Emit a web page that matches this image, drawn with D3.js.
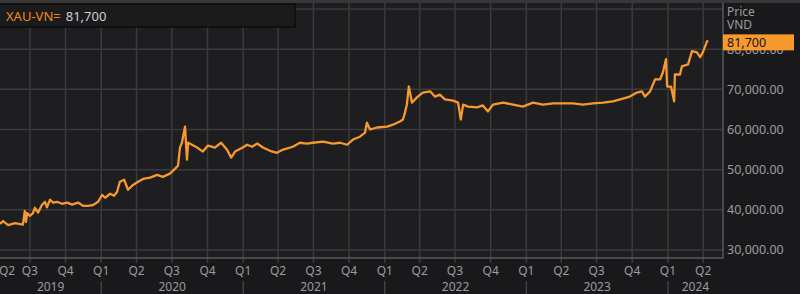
<!DOCTYPE html>
<html>
<head>
<meta charset="utf-8">
<script src="https://cdn.jsdelivr.net/npm/d3@7"></script>
<style>
  body { margin: 0; background: #19191b; }
  svg { display: block; font-family: "Noto Sans", "Open Sans", sans-serif; }
</style>
</head>
<body>
<div id="chart"></div>
<script>
// XAU-VN= gold price, VND
var dates = [
  "2019-04-15","2019-04-23","2019-05-06","2019-05-24","2019-06-13","2019-06-18","2019-06-21","2019-06-24",
  "2019-07-01","2019-07-09","2019-07-14","2019-07-22","2019-08-01","2019-08-09","2019-08-14","2019-08-22",
  "2019-08-30","2019-09-09","2019-09-22","2019-10-05","2019-10-18","2019-11-02","2019-11-15","2019-11-28",
  "2019-12-11","2019-12-24","2020-01-03","2020-01-11","2020-01-24","2020-02-03","2020-02-11","2020-02-18",
  "2020-02-29","2020-03-10","2020-03-23","2020-04-05","2020-04-18","2020-05-06","2020-05-24","2020-06-08",
  "2020-06-26","2020-07-09","2020-07-17","2020-07-22","2020-07-27","2020-08-04","2020-08-09","2020-08-12",
  "2020-08-22","2020-09-04","2020-09-19","2020-10-02","2020-10-20","2020-11-05","2020-11-20","2020-12-01",
  "2020-12-11","2020-12-31","2021-01-11","2021-01-24","2021-02-06","2021-02-21","2021-03-11","2021-03-29",
  "2021-04-14","2021-05-09","2021-05-27","2021-06-14","2021-06-30","2021-07-26","2021-08-20","2021-09-08",
  "2021-09-26","2021-10-11","2021-10-29","2021-11-11","2021-11-16","2021-11-24","2021-12-12","2022-01-07",
  "2022-01-22","2022-02-09","2022-02-17","2022-02-22","2022-02-27","2022-03-04","2022-03-12","2022-03-25",
  "2022-04-09","2022-04-28","2022-05-10","2022-05-23","2022-06-05","2022-06-26","2022-07-09","2022-07-16",
  "2022-07-22","2022-08-04","2022-08-27","2022-09-11","2022-09-24","2022-10-07","2022-11-02","2022-11-28",
  "2022-12-23","2023-01-18","2023-02-13","2023-03-11","2023-04-05","2023-05-01","2023-05-27","2023-06-22",
  "2023-07-18","2023-08-12","2023-09-07","2023-09-25","2023-10-13","2023-10-26","2023-11-03","2023-11-16",
  "2023-11-29","2023-12-12","2023-12-19","2023-12-27","2023-12-30","2024-01-09","2024-01-17","2024-01-19",
  "2024-02-01","2024-02-06","2024-02-22","2024-03-03","2024-03-16","2024-03-24","2024-03-31","2024-04-11",
  "2024-04-13"
];
var prices = [
  36500, 37200, 36200, 36700, 36300, 39700, 37000, 39200,
  38500, 39200, 40500, 39300, 41200, 42000, 40600, 42500,
  41800, 42000, 41500, 41800, 41300, 41800, 41000, 41000,
  41200, 42000, 43700, 43000, 44000, 43500, 44500, 47000,
  47500, 45000, 46200, 47000, 47700, 48000, 48700, 48200,
  49000, 50200, 51000, 55500, 56700, 60700, 52500, 56700,
  56200, 55500, 54500, 56000, 55500, 56700, 55000, 53000,
  54500, 55500, 56200, 55700, 56500, 55500, 54700, 54200,
  55000, 55700, 56700, 56500, 56700, 57000, 56500, 56700,
  56200, 57500, 58200, 59200, 61700, 60000, 60500, 60700,
  61200, 62000, 62500, 64200, 66200, 70700, 66700, 68000,
  69200, 69500, 68200, 68700, 67500, 67200, 66700, 62500,
  66200, 65700, 65500, 66000, 64500, 66200, 66700, 66200,
  65700, 66700, 66200, 66500, 66500, 66500, 66200, 66500,
  66700, 67000, 67700, 68200, 69200, 69500, 68200, 69500,
  72500, 72500, 74200, 77500, 70700, 70700, 67000, 73700,
  73700, 75700, 76200, 79500, 79200, 78000, 79200, 82000,
  81700
];
var yTicks = [30000, 40000, 50000, 60000, 70000, 80000, 90000];
var yLabels = [30000, 40000, 50000, 60000, 70000, 80000];
var symbol = "XAU-VN=";
var lastLabel = "81,700";
var unitLines = ["Price", "VND"];

var width = 800, height = 294;
var plotRight = 723, plotTop = 3, plotBottom = 258;

var parse = d3.timeParse("%Y-%m-%d");
var series = dates.map(function(d, i) { return { date: parse(d), value: prices[i] }; });

var x = d3.scaleTime()
    .domain([parse("2019-04-15"), parse("2024-05-22")])
    .range([0, plotRight]);
var y = d3.scaleLinear()
    .domain([28000, 91500])
    .range([plotBottom, plotTop]);

var svg = d3.select("#chart").append("svg")
    .attr("width", width)
    .attr("height", height);

svg.append("rect").attr("width", width).attr("height", height).attr("fill", "#19191b");
svg.append("rect").attr("width", width).attr("height", 3).attr("fill", "#38383a");
svg.append("rect")
    .attr("x", 0).attr("y", plotTop)
    .attr("width", plotRight).attr("height", plotBottom - plotTop)
    .attr("fill", "#1e1e20");

// quarter gridlines
var quarters = d3.timeMonth.every(3).range(parse("2019-04-01"), parse("2024-05-01"));
svg.append("g").selectAll("line")
    .data(quarters)
    .enter().append("line")
    .attr("x1", d => x(d)).attr("x2", d => x(d))
    .attr("y1", plotTop).attr("y2", plotBottom + 5)
    .attr("stroke", "#3b3b3d").attr("stroke-width", 1.5);

// horizontal gridlines
svg.append("g").selectAll("line")
    .data(yTicks)
    .enter().append("line")
    .attr("x1", 0).attr("x2", plotRight)
    .attr("y1", d => y(d)).attr("y2", d => y(d))
    .attr("stroke", "#3b3b3d").attr("stroke-width", 1.5);

// frame
svg.append("path")
    .attr("d", `M0,${plotBottom}H${plotRight}V${plotTop}`)
    .attr("fill", "none").attr("stroke", "#58585a").attr("stroke-width", 1.5);

// price line
var line = d3.line().x(d => x(d.date)).y(d => y(d.value));
svg.append("path")
    .datum(series)
    .attr("d", line)
    .attr("fill", "none")
    .attr("stroke", "#f7992c")
    .attr("stroke-width", 2.3)
    .attr("stroke-linejoin", "round");

// quarter labels
svg.append("g").selectAll("text")
    .data(quarters)
    .enter().append("text")
    .attr("x", d => Math.max(x(d), 7))
    .attr("y", 274.5)
    .attr("text-anchor", "middle")
    .attr("fill", "#9c9ca0")
    .attr("font-size", 12)
    .text(d => "Q" + (Math.floor(d.getMonth() / 3) + 1));

// year labels + separators
var years = d3.timeYear.range(parse("2019-01-01"), parse("2025-01-01"));
svg.append("g").selectAll("text")
    .data(years)
    .enter().append("text")
    .attr("x", function(d) {
        var a = Math.max(x(d), 0), b = Math.min(x(d3.timeYear.offset(d, 1)), plotRight);
        return (a + b) / 2;
    })
    .attr("y", 291)
    .attr("text-anchor", "middle")
    .attr("fill", "#9c9ca0")
    .attr("font-size", 12)
    .text(d => d.getFullYear());
svg.append("g").selectAll("line")
    .data(years.slice(1))
    .enter().append("line")
    .attr("x1", d => x(d)).attr("x2", d => x(d))
    .attr("y1", 281).attr("y2", 294)
    .attr("stroke", "#4a4a4c").attr("stroke-width", 1.2);

// right axis labels (80,000 sits under the last value tag, as in the source)
svg.append("g").selectAll("text")
    .data(yLabels)
    .enter().append("text")
    .attr("x", plotRight + 4)
    .attr("y", d => y(d) + 4.5)
    .attr("fill", "#9c9ca0")
    .attr("font-size", 12.5)
    .text(d => d3.format(",.2f")(d));

// unit caption, one text block
var unit = svg.append("text")
    .attr("fill", "#9c9ca0")
    .attr("font-size", 12);
unit.selectAll("tspan")
    .data(unitLines)
    .enter().append("tspan")
    .attr("x", plotRight + 4)
    .attr("y", (d, i) => 16 + i * 13)
    .text(d => d);

// last value tag
var lastY = y(prices[prices.length - 1]);
svg.append("rect")
    .attr("x", plotRight).attr("y", lastY - 8)
    .attr("width", 71).attr("height", 16)
    .attr("fill", "#f7992c");
svg.append("text")
    .attr("x", plotRight + 4).attr("y", lastY + 4.5)
    .attr("fill", "#141414")
    .attr("font-size", 12.5)
    .text(lastLabel);

// legend box
svg.append("rect")
    .attr("x", -1).attr("y", 4)
    .attr("width", 296).attr("height", 23)
    .attr("fill", "#1b1b1c")
    .attr("stroke", "#0c0c0c").attr("stroke-width", 1.5);
var legend = svg.append("text")
    .attr("x", 6).attr("y", 21)
    .attr("font-size", 13);
legend.append("tspan").attr("fill", "#f08a24").text(symbol);
legend.append("tspan").attr("fill", "#c9d0dc").attr("dx", 5).text(lastLabel);
</script>
</body>
</html>
